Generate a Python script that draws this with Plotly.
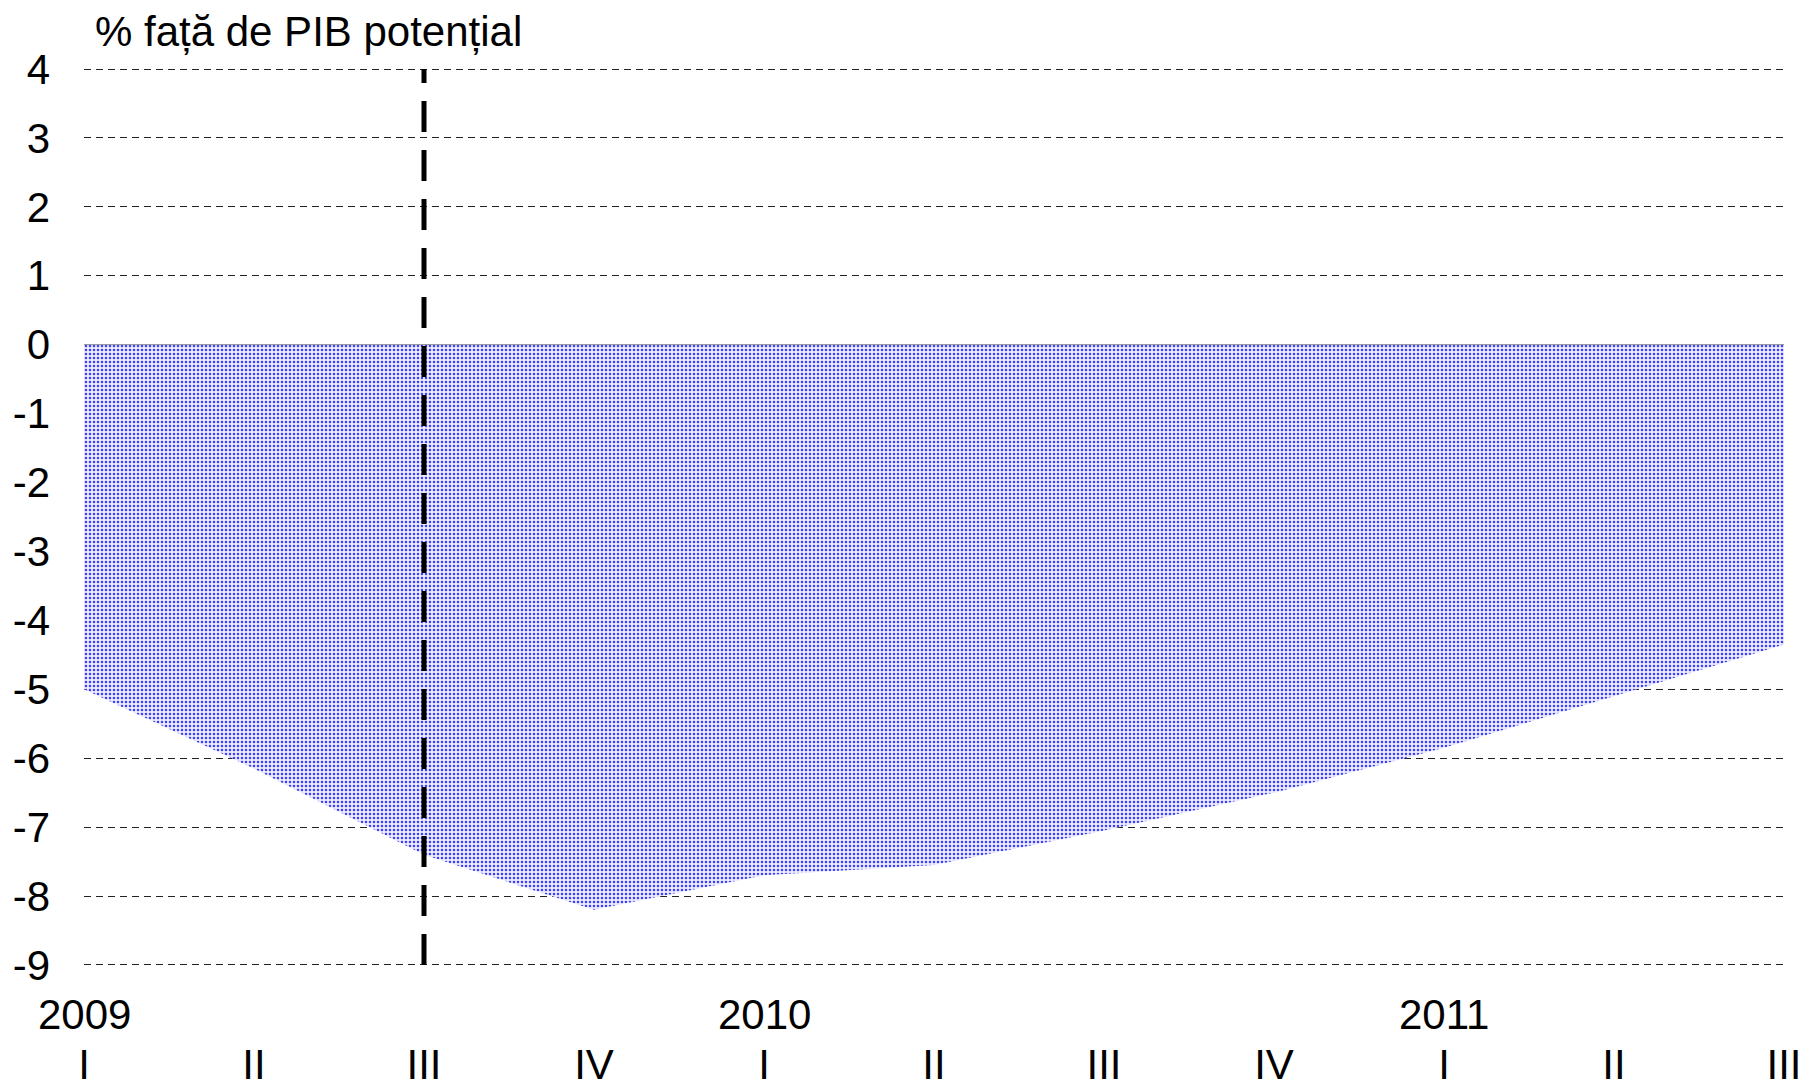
import plotly.graph_objects as go

quarters = ["I", "II", "III", "IV", "I", "II", "III", "IV", "I", "II", "III"]
years = ["2009", "", "", "", "2010", "", "", "", "2011", "", ""]
gap = [-5.0, -6.15, -7.4, -8.2, -7.7, -7.55, -7.05, -6.5, -5.85, -5.1, -4.35]
y_ticks = [4, 3, 2, 1, 0, -1, -2, -3, -4, -5, -6, -7, -8, -9]
y_title = "% față de PIB potențial"
marker_quarter = 2  # vertical dashed line at 2009 III

FONT = "Arial, Liberation Sans, sans-serif"
FS = 42
x_idx = list(range(len(quarters)))

fig = go.Figure()
fig.add_trace(go.Scatter(
    x=x_idx, y=gap, mode="lines", fill="tozeroy",
    line=dict(width=0, color="rgba(0,0,0,0)"),
    fillcolor="#ececfc",
    fillpattern=dict(shape=".", fgcolor="#3c3cff", bgcolor="#ececfc",
                     size=4, solidity=0.32, fillmode="replace"),
    hoverinfo="skip", showlegend=False,
))

fig.add_shape(type="line", xref="x", yref="y",
              x0=marker_quarter, x1=marker_quarter,
              y0=min(y_ticks), y1=max(y_ticks),
              line=dict(color="black", width=5, dash="31px,18px"))

for i, yr in enumerate(years):
    if yr:
        fig.add_annotation(x=i, xref="x", y=0, yref="paper", text=yr,
                           showarrow=False, yanchor="middle", yshift=-48,
                           font=dict(family=FONT, size=FS, color="black"))

fig.add_annotation(x=0, xref="paper", xshift=9, y=1, yref="paper", yshift=37,
                   text=y_title, showarrow=False, xanchor="left", yanchor="middle",
                   font=dict(family=FONT, size=FS, color="black"))

fig.update_layout(
    width=1807, height=1084,
    margin=dict(l=76, r=31, t=60, b=126),
    paper_bgcolor="white", plot_bgcolor="white",
    font=dict(family=FONT, size=FS, color="black"),
    xaxis=dict(range=[0, 10], tickmode="array", tickvals=x_idx, ticktext=quarters,
               showgrid=False, zeroline=False, showline=False, ticks="",
               ticklabelstandoff=70, automargin=False, fixedrange=True),
    yaxis=dict(range=[-9.015, 4.015], tickmode="array", tickvals=y_ticks,
               ticktext=[str(v) for v in y_ticks],
               showgrid=True, gridcolor="#222222", gridwidth=1, griddash="7px,5px",
               zeroline=True, zerolinecolor="#808080", zerolinewidth=2,
               showline=False, ticks="", ticklabelstandoff=33,
               automargin=False, fixedrange=True),
)

fig.write_html("out.html")
